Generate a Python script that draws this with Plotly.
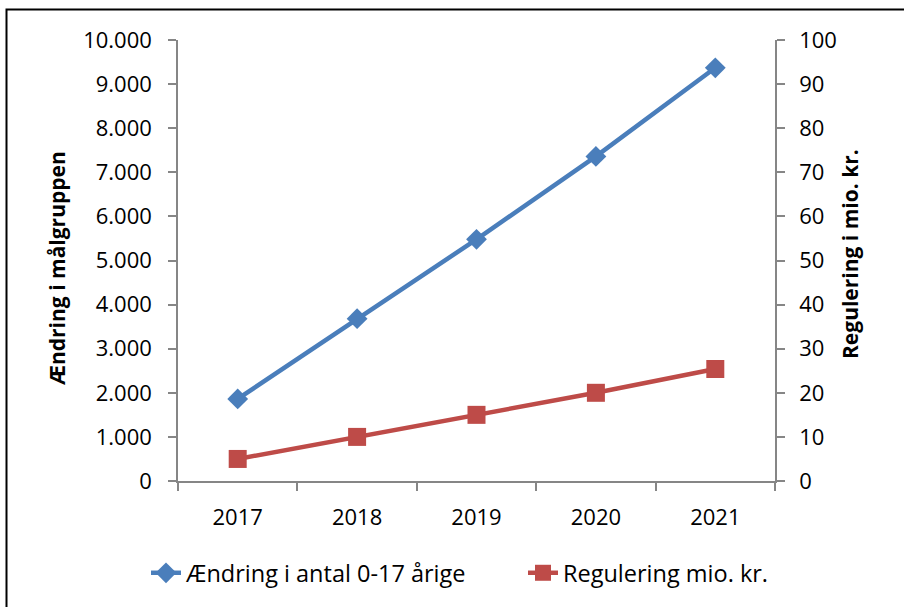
import plotly.graph_objects as go

# data
years = ['2017', '2018', '2019', '2020', '2021']
aendring = [1860, 3680, 5480, 7360, 9370]
regulering = [5, 10, 15, 20, 25.4]

BLUE = '#4A7EBB'
RED = '#BE4B48'
AXIS = '#868686'
FONT = 'Open Sans, Liberation Sans, sans-serif'

# plot area in pixels: x 178..775, y 40..481
PW, PH = 597, 441

fig = go.Figure()
fig.add_trace(go.Scatter(x=years, y=aendring, name='Ændring i antal 0-17 årige', mode='lines+markers',
                         line=dict(color=BLUE, width=4.5), marker=dict(symbol='diamond', size=16, color=BLUE)))
fig.add_trace(go.Scatter(x=years, y=regulering, name='Regulering mio. kr.', mode='lines+markers', yaxis='y2',
                         line=dict(color=RED, width=4.5), marker=dict(symbol='square', size=18, color=RED)))

axis_style = dict(showgrid=False, zeroline=False, showline=True, linecolor=AXIS, linewidth=1.5,
                  ticks='outside', ticklen=8, tickcolor=AXIS, tickwidth=1.5, tickfont=dict(size=22))

fig.update_layout(
    width=904, height=607, paper_bgcolor='white', plot_bgcolor='white',
    font=dict(family=FONT, size=22, color='black'),
    separators=',.',
    margin=dict(l=178, r=129, t=40, b=126),
    showlegend=True,
    legend=dict(orientation='h', x=(146 - 178) / PW, xanchor='left', y=-92 / PH, yanchor='middle',
                font=dict(size=23.5), traceorder='normal', entrywidth=332, entrywidthmode='pixels'),
    xaxis=dict(type='category', tickson='boundaries', range=[-0.5, 4.5], ticklabelstandoff=16, **axis_style),
    yaxis=dict(range=[0, 10000], dtick=1000, tickformat=',d', ticklabelstandoff=12, **axis_style),
    yaxis2=dict(range=[0, 100], dtick=10, overlaying='y', side='right', ticklabelstandoff=10, **axis_style),
)

fig.add_annotation(text='<b>Ændring i målgruppen</b>', textangle=-90, xref='paper', yref='paper',
                   x=(41 - 178) / PW, y=(481 - 268) / PH, showarrow=False, font=dict(size=21))
fig.add_annotation(text='<b>Regulering i mio. kr.</b>', textangle=-90, xref='paper', yref='paper',
                   x=(866 - 178) / PW, y=(481 - 254) / PH, showarrow=False, font=dict(size=21))

# outer frame around the whole chart (right and bottom edges fall outside the picture)
fig.add_shape(type='rect', xref='paper', yref='paper', x0=(6.5 - 178) / PW, x1=(920 - 178) / PW,
              y0=(481 - 630) / PH, y1=(481 - 9.5) / PH, line=dict(color='black', width=2))

fig.write_html('out.html', config={'displayModeBar': False},
               post_script="document.body.style.margin='0';")
